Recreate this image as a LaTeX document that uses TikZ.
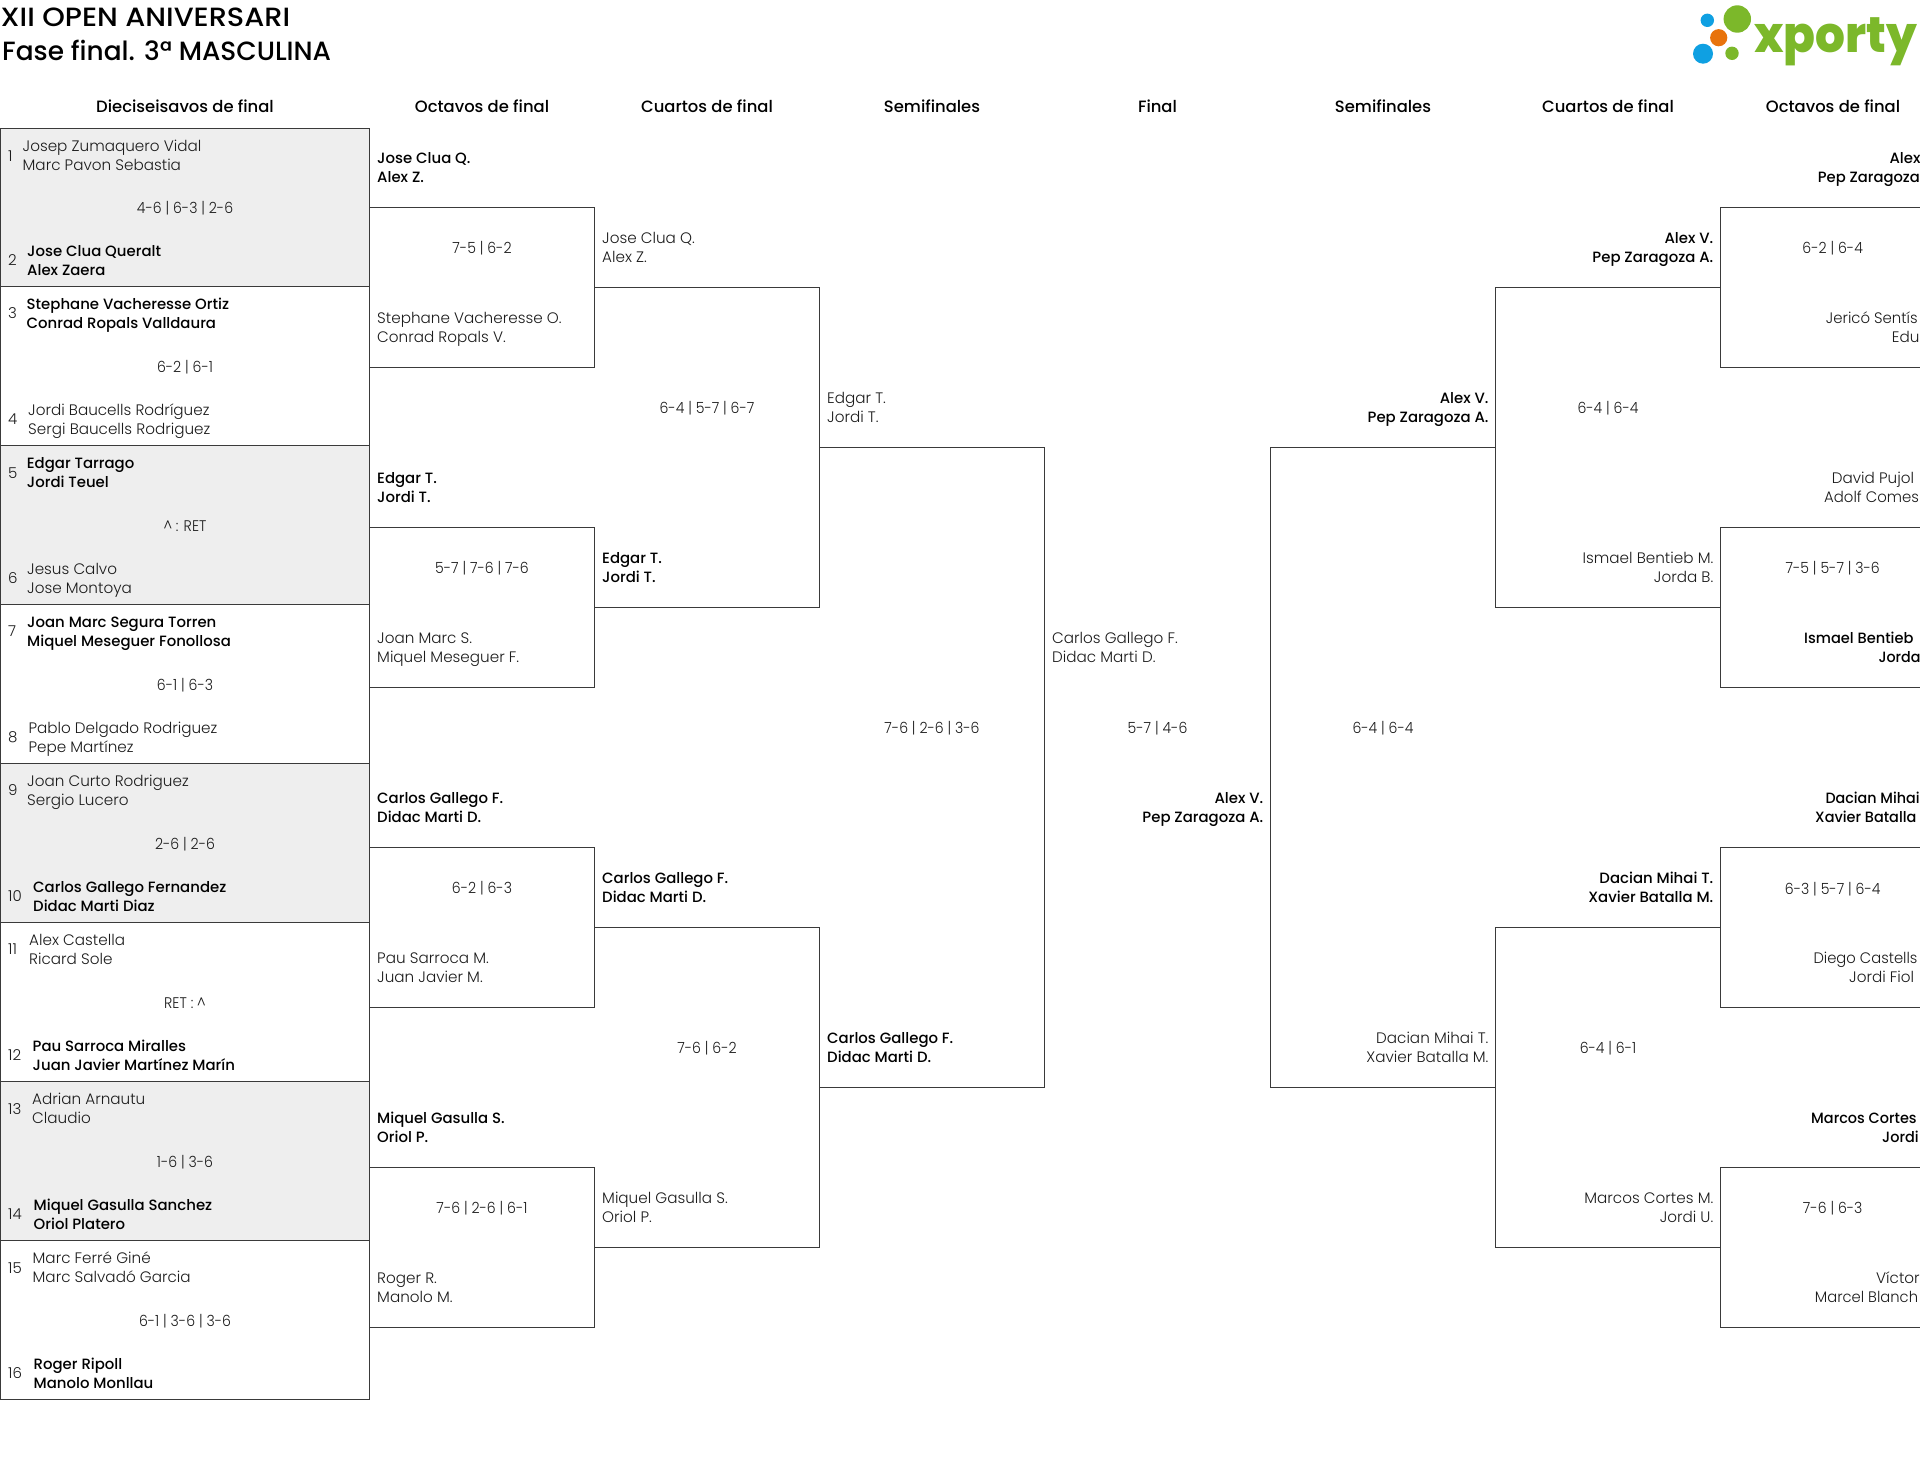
\documentclass[tikz,border=0pt]{standalone}
\usepackage{fontspec}
\setmainfont{Poppins}
\newfontfamily\lightf{Poppins Light}
\newfontfamily\medf{Poppins Medium}
\newfontfamily\logof{Poppins}[BoldFont={Poppins ExtraBold}]
\definecolor{rule}{HTML}{3A3A3A}
\definecolor{shade}{HTML}{EEEEEE}
\definecolor{txt}{HTML}{1C1C1C}
\definecolor{logog}{HTML}{7CB82A}
\definecolor{logob}{HTML}{0FA0E2}
\definecolor{logoo}{HTML}{E8730C}
\tikzset{
  rowbox/.style={draw=rule,line width=1pt,inner sep=0pt,outer sep=0pt,minimum width=369pt,minimum height=159pt,anchor=north west},
  bracketline/.style={draw=rule,line width=1pt,line join=miter},
  loserL/.style={anchor=west,align=left,inner sep=0pt,text=txt,yshift=-2.1pt,font=\lightf\fontsize{15.2}{19}\selectfont},
  winnerL/.style={anchor=west,align=left,inner sep=0pt,text=black,yshift=-2.1pt,font=\medf\fontsize{14.9}{19}\selectfont},
  loserR/.style={anchor=east,align=right,inner sep=0pt,text=txt,yshift=-2.1pt,font=\lightf\fontsize{15.2}{19}\selectfont},
  winnerR/.style={anchor=east,align=right,inner sep=0pt,text=black,yshift=-2.1pt,font=\medf\fontsize{14.9}{19}\selectfont},
  score/.style={anchor=center,inner sep=0pt,text=txt,yshift=-2.1pt,font=\lightf\fontsize{15.4}{19}\selectfont},
  seed/.style={anchor=west,inner sep=0pt,text=txt,yshift=-2.1pt,font=\lightf\fontsize{15}{19}\selectfont},
  heading/.style={anchor=center,inner sep=0pt,text=black,font=\medf\fontsize{16.4}{22}\selectfont},
  titletext/.style={anchor=west,inner sep=0pt,text=black,font=\medf\fontsize{26.4}{32}\selectfont},
}
\newcommand{\lbl}[6]{\node[#1] (#2) at (#3,#4) {\strut #5\\\strut #6};}
\newcommand{\frag}[5]{\node[#1] (#2) at (#3,#4) {\strut #5};}
\newcommand{\fragn}[6]{\node[#1] (#2) at (#3,#4) {\strut\scalebox{#6}[1]{#5}};}
\newcommand{\scr}[4]{\node[score] (#1) at (#2,#3) {\strut\scalebox{0.915}[1]{#4}};}
\newcommand{\brL}[5]{% name x0 x1 ytop ybot : open on the left
  \coordinate (#1a) at (#2,#4); \coordinate (#1b) at (#3,#4);
  \coordinate (#1c) at (#3,#5); \coordinate (#1d) at (#2,#5);
  \draw[bracketline] (#1a) -- (#1b) -- (#1c) -- (#1d);}
\newcommand{\brR}[5]{% name x0 x1 ytop ybot : open on the right
  \coordinate (#1a) at (#3,#4); \coordinate (#1b) at (#2,#4);
  \coordinate (#1c) at (#2,#5); \coordinate (#1d) at (#3,#5);
  \draw[bracketline] (#1a) -- (#1b) -- (#1c) -- (#1d);}
\begin{document}
\begin{tikzpicture}[x=1pt,y=-1pt]
\clip[use as bounding box] (0,0) rectangle (1920,1473);
\fill[white] (0,0) rectangle (1920,1473);
% title
\node[titletext] (title1) at (0.5,17.5) {\scalebox{1.09}[1]{XII OPEN ANIVERSARI}};
\node[titletext] (title2) at (2,50.5) {Fase final. 3ª MASCULINA};
% logo
\fill[logog] (1737.3,19) circle (13.7);
\fill[logob] (1707.3,20.3) circle (6.7);
\fill[logoo] (1718.7,37.7) circle (8.6);
\fill[logob] (1703,53.7) circle (10);
\fill[logog] (1732,53.3) circle (6.7);
\node[anchor=base west,inner sep=0pt,text=logog,font=\logof\bfseries\fontsize{50}{50}\selectfont] (logotext) at (1754,52.3) {\scalebox{0.94}[1]{xporty}};
% headings
\node[heading] (h1) at (185,106.5) {Dieciseisavos de final};
\node[heading] (h2) at (482,106.5) {Octavos de final};
\node[heading] (h3) at (707,106.5) {Cuartos de final};
\node[heading] (h4) at (932,106.5) {Semifinales};
\node[heading] (h5) at (1157.5,106.5) {Final};
\node[heading] (h6) at (1383,106.5) {Semifinales};
\node[heading] (h7) at (1608,106.5) {Cuartos de final};
\node[heading] (h8) at (1833,106.5) {Octavos de final};
% first round boxes
\node[rowbox,fill=shade,minimum height=158pt] (row0) at (0.5,128.5) {};
\foreach \i/\t/\f in {1/286.5/white,2/445.5/shade,3/604.5/white,4/763.5/shade,5/922.5/white,6/1081.5/shade,7/1240.5/white}{
  \node[rowbox,fill=\f] (row\i) at (0.5,\t) {};
}
% brackets, left half
\brL{oa}{369.5}{594.5}{207.5}{367.5}
\brL{ob}{369.5}{594.5}{527.5}{687.5}
\brL{oc}{369.5}{594.5}{847.5}{1007.5}
\brL{od}{369.5}{594.5}{1167.5}{1327.5}
\brL{ca}{594.5}{819.5}{287.5}{607.5}
\brL{cb}{594.5}{819.5}{927.5}{1247.5}
\brL{sa}{819.5}{1044.5}{447.5}{1087.5}
% brackets, right half
\brR{ra}{1270.5}{1495.5}{447.5}{1087.5}
\brR{rb}{1495.5}{1720.5}{287.5}{607.5}
\brR{rc}{1495.5}{1720.5}{927.5}{1247.5}
\brR{rd}{1720.5}{1960}{207.5}{367.5}
\brR{re}{1720.5}{1960}{527.5}{687.5}
\brR{rf}{1720.5}{1960}{847.5}{1007.5}
\brR{rg}{1720.5}{1960}{1167.5}{1327.5}
% first round
\frag{seed}{n1}{8}{155.3}{1}
\lbl{loserL}{t1}{22.5}{155.5}{Josep Zumaquero Vidal}{Marc Pavon Sebastia}
\scr{s1}{185}{208}{4-6 | 6-3 | 2-6}
\frag{seed}{n2}{8}{260}{2}
\lbl{winnerL}{t2}{27}{259.8}{Jose Clua Queralt}{Alex Zaera}
\frag{seed}{n3}{8}{313}{3}
\lbl{winnerL}{t3}{26.5}{313}{Stephane Vacheresse Ortiz}{Conrad Ropals Valldaura}
\scr{s2}{185}{366.7}{6-2 | 6-1}
\frag{seed}{n4}{8}{419}{4}
\lbl{loserL}{t4}{28}{419.2}{Jordi Baucells Rodríguez}{Sergi Baucells Rodriguez}
\frag{seed}{n5}{8}{472.3}{5}
\lbl{winnerL}{t5}{26.7}{472}{Edgar Tarrago}{Jordi Teuel}
\scr{s3}{185}{525.7}{\^{} : RET}
\frag{seed}{n6}{8}{577.7}{6}
\lbl{loserL}{t6}{27}{578}{Jesus Calvo}{Jose Montoya}
\frag{seed}{n7}{8}{631}{7}
\lbl{winnerL}{t7}{27}{631}{Joan Marc Segura Torren}{Miquel Meseguer Fonollosa}
\scr{s4}{185}{684.7}{6-1 | 6-3}
\frag{seed}{n8}{8}{736.7}{8}
\lbl{loserL}{t8}{28.3}{737}{Pablo Delgado Rodriguez}{Pepe Martínez}
\frag{seed}{n9}{8}{790}{9}
\lbl{loserL}{t9}{27}{790}{Joan Curto Rodriguez}{Sergio Lucero}
\scr{s5}{185}{843.7}{2-6 | 2-6}
\frag{seed}{n10}{8}{895.7}{10}
\lbl{winnerL}{t10}{33}{896}{Carlos Gallego Fernandez}{Didac Marti Diaz}
\frag{seed}{n11}{8}{949}{11}
\lbl{loserL}{t11}{29}{949}{Alex Castella}{Ricard Sole}
\scr{s6}{185}{1002.7}{RET : \^{}}
\frag{seed}{n12}{8}{1054.7}{12}
\lbl{winnerL}{t12}{32.5}{1055}{Pau Sarroca Miralles}{Juan Javier Martínez Marín}
\frag{seed}{n13}{8}{1108.7}{13}
\lbl{loserL}{t13}{32}{1108.5}{Adrian Arnautu}{Claudio}
\scr{s7}{185}{1162}{1-6 | 3-6}
\frag{seed}{n14}{8}{1214}{14}
\lbl{winnerL}{t14}{33.5}{1214}{Miquel Gasulla Sanchez}{Oriol Platero}
\frag{seed}{n15}{8}{1267.7}{15}
\lbl{loserL}{t15}{32.5}{1267.5}{Marc Ferré Giné}{Marc Salvadó Garcia}
\scr{s8}{185}{1321}{6-1 | 3-6 | 3-6}
\frag{seed}{n16}{8}{1373}{16}
\lbl{winnerL}{t16}{33.5}{1373}{Roger Ripoll}{Manolo Monllau}
% octavos left
\lbl{winnerL}{oa1}{377}{167}{Jose Clua Q.}{Alex Z.}
\scr{oas}{482}{247.7}{7-5 | 6-2}
\lbl{loserL}{oa2}{377}{327.3}{Stephane Vacheresse O.}{Conrad Ropals V.}
\lbl{winnerL}{ob1}{377}{487.3}{Edgar T.}{Jordi T.}
\scr{obs}{482}{567.5}{5-7 | 7-6 | 7-6}
\lbl{loserL}{ob2}{377}{647.3}{Joan Marc S.}{Miquel Meseguer F.}
\lbl{winnerL}{oc1}{377}{807.3}{Carlos Gallego F.}{Didac Marti D.}
\scr{ocs}{482}{887.5}{6-2 | 6-3}
\lbl{loserL}{oc2}{377}{967.3}{Pau Sarroca M.}{Juan Javier M.}
\lbl{winnerL}{od1}{377}{1127.3}{Miquel Gasulla S.}{Oriol P.}
\scr{ods}{482}{1207.7}{7-6 | 2-6 | 6-1}
\lbl{loserL}{od2}{377}{1287.3}{Roger R.}{Manolo M.}
% cuartos left
\lbl{loserL}{ca1}{602}{247.3}{Jose Clua Q.}{Alex Z.}
\scr{cas}{707}{407.5}{6-4 | 5-7 | 6-7}
\lbl{winnerL}{ca2}{602}{567.3}{Edgar T.}{Jordi T.}
\lbl{winnerL}{cb1}{602}{887.3}{Carlos Gallego F.}{Didac Marti D.}
\scr{cbs}{707}{1047.5}{7-6 | 6-2}
\lbl{loserL}{cb2}{602}{1207.3}{Miquel Gasulla S.}{Oriol P.}
% semifinal left
\lbl{loserL}{sa1}{827}{407.3}{Edgar T.}{Jordi T.}
\scr{sas}{932}{727.5}{7-6 | 2-6 | 3-6}
\lbl{winnerL}{sa2}{827}{1047.3}{Carlos Gallego F.}{Didac Marti D.}
% final
\lbl{loserL}{fa1}{1052}{647.3}{Carlos Gallego F.}{Didac Marti D.}
\scr{fas}{1157.5}{727.5}{5-7 | 4-6}
\lbl{winnerR}{fa2}{1263.5}{807.3}{Alex V.}{Pep Zaragoza A.}
% semifinal right
\lbl{winnerR}{ra1}{1488.7}{407.3}{Alex V.}{Pep Zaragoza A.}
\scr{ras}{1383}{727.5}{6-4 | 6-4}
\lbl{loserR}{ra2}{1488.7}{1047.3}{Dacian Mihai T.}{Xavier Batalla M.}
% cuartos right
\lbl{winnerR}{rb1}{1713.5}{247.3}{Alex V.}{Pep Zaragoza A.}
\scr{rbs}{1608}{407.5}{6-4 | 6-4}
\lbl{loserR}{rb2}{1713.5}{567.3}{Ismael Bentieb M.}{Jorda B.}
\lbl{winnerR}{rc1}{1713.5}{887.3}{Dacian Mihai T.}{Xavier Batalla M.}
\scr{rcs}{1608}{1047.5}{6-4 | 6-1}
\lbl{loserR}{rc2}{1713.5}{1207.3}{Marcos Cortes M.}{Jordi U.}
% octavos right (cut by the page edge)
\frag{winnerL}{rd1}{1889.3}{157.7}{Alex}
\fragn{winnerL}{rd2}{1817.7}{177}{Pep Zaragoza}{0.99}
\scr{rds}{1832.7}{247.7}{6-2 | 6-4}
\fragn{loserL}{rd3}{1825.7}{317.7}{Jericó Sentís}{0.98}
\frag{loserL}{rd4}{1891.7}{336.7}{Edu}
\frag{loserL}{re1}{1831.7}{477.7}{David Pujol}
\fragn{loserL}{re2}{1824}{496.7}{Adolf Comes}{0.98}
\scr{res}{1832.7}{567.7}{7-5 | 5-7 | 3-6}
\fragn{winnerL}{re3}{1804}{637.3}{Ismael Bentieb}{0.98}
\fragn{winnerL}{re4}{1878.3}{656.3}{Jorda}{0.96}
\fragn{winnerL}{rf1}{1825.3}{797.3}{Dacian Mihai}{0.96}
\fragn{winnerL}{rf2}{1815}{816.3}{Xavier Batalla}{0.97}
\scr{rfs}{1832.7}{888.3}{6-3 | 5-7 | 6-4}
\fragn{loserL}{rf3}{1813.3}{957.7}{Diego Castells}{0.97}
\frag{loserL}{rf4}{1849}{977}{Jordi Fiol}
\fragn{winnerL}{rg1}{1811}{1117.3}{Marcos Cortes}{0.97}
\fragn{winnerL}{rg2}{1882}{1136.7}{Jordi}{0.97}
\scr{rgs}{1832.7}{1208}{7-6 | 6-3}
\frag{loserL}{rg3}{1876}{1277.7}{Víctor}
\fragn{loserL}{rg4}{1814.7}{1296.7}{Marcel Blanch}{0.97}
\end{tikzpicture}
\end{document}
